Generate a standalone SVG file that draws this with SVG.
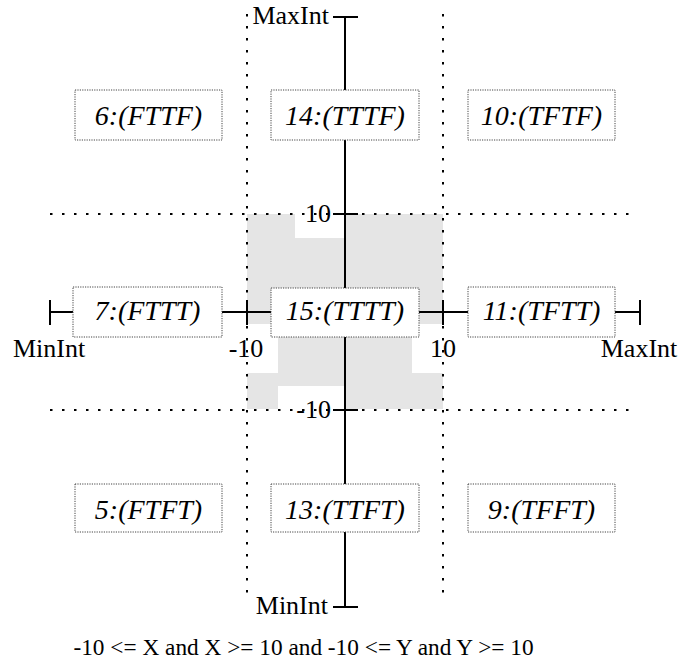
<svg xmlns="http://www.w3.org/2000/svg" width="680" height="668" viewBox="0 0 680 668">
<style>
.box{fill:#fff;stroke:#444;stroke-width:1;stroke-dasharray:1.2,1.2}
.bt{font-family:"Liberation Serif",serif;font-style:italic;font-size:28px;text-anchor:middle;fill:#000}
.lbl{font-family:"Liberation Serif",serif;font-size:26px;fill:#000}
.axis{stroke:#000;stroke-width:2;fill:none}
.dot{stroke:#000;stroke-width:2;stroke-dasharray:2.5,9.5;fill:none}
</style>
<rect width="680" height="668" fill="#fff"/>
<g id="region">
<path d="M247,214 H295 V238 H345 V214 H443 V324 H412 V373 H443 V409 H345 V386 H278 V409 H247 V373 H278 V324 H247 Z" fill="#e5e5e5"/>
</g>
<g id="grid">
<line class="dot" x1="247" y1="14" x2="247" y2="600"/>
<line class="dot" x1="443" y1="14" x2="443" y2="600"/>
<line class="dot" x1="50" y1="214" x2="634" y2="214"/>
<line class="dot" x1="50" y1="410" x2="634" y2="410"/>
</g>
<g id="connectors">
<line class="axis" x1="345" y1="17" x2="345" y2="607"/>
<line class="axis" x1="333" y1="17" x2="358" y2="17"/>
<line class="axis" x1="333" y1="214" x2="358" y2="214"/>
<line class="axis" x1="333" y1="410" x2="358" y2="410"/>
<line class="axis" x1="333" y1="607" x2="358" y2="607"/>
<line class="axis" x1="50" y1="312" x2="640" y2="312"/>
<line class="axis" x1="50" y1="300" x2="50" y2="325"/>
<line class="axis" x1="247" y1="300" x2="247" y2="325"/>
<line class="axis" x1="443" y1="300" x2="443" y2="325"/>
<line class="axis" x1="640" y1="300" x2="640" y2="325"/>
</g>
<g id="labels">
<text class="lbl" x="329" y="24" text-anchor="end">MaxInt</text>
<text class="lbl" x="331" y="222" text-anchor="end">10</text>
<text class="lbl" x="331" y="418" text-anchor="end">-10</text>
<text class="lbl" x="328" y="614" text-anchor="end">MinInt</text>
<text class="lbl" x="49" y="357" text-anchor="middle">MinInt</text>
<text class="lbl" x="246" y="357" text-anchor="middle">-10</text>
<text class="lbl" x="443" y="357" text-anchor="middle">10</text>
<text class="lbl" x="639" y="357" text-anchor="middle">MaxInt</text>
<text x="303.5" y="655" font-family="Liberation Serif, serif" font-size="23.3" text-anchor="middle">-10 &lt;= X and X &gt;= 10 and -10 &lt;= Y and Y &gt;= 10</text>
</g>
<g id="n6"><rect class="box" x="75" y="90" width="147" height="50"/><text class="bt" x="148.5" y="125">6:(FTTF)</text></g>
<g id="n14"><rect class="box" x="271" y="90" width="148" height="50"/><text class="bt" x="345" y="125">14:(TTTF)</text></g>
<g id="n10"><rect class="box" x="468" y="90" width="147" height="50"/><text class="bt" x="541.5" y="125">10:(TFTF)</text></g>
<g id="n7"><rect class="box" x="73" y="287" width="149" height="50"/><text class="bt" x="147.5" y="320">7:(FTTT)</text></g>
<g id="n15"><rect class="box" x="271" y="288" width="148" height="49"/><text class="bt" x="345" y="320">15:(TTTT)</text></g>
<g id="n11"><rect class="box" x="468" y="287" width="147" height="50"/><text class="bt" x="541.5" y="320">11:(TFTT)</text></g>
<g id="n5"><rect class="box" x="75" y="484" width="147" height="48"/><text class="bt" x="148.5" y="519">5:(FTFT)</text></g>
<g id="n13"><rect class="box" x="271" y="484" width="148" height="48"/><text class="bt" x="345" y="519">13:(TTFT)</text></g>
<g id="n9"><rect class="box" x="468" y="484" width="147" height="48"/><text class="bt" x="541.5" y="519">9:(TFFT)</text></g>
</svg>
